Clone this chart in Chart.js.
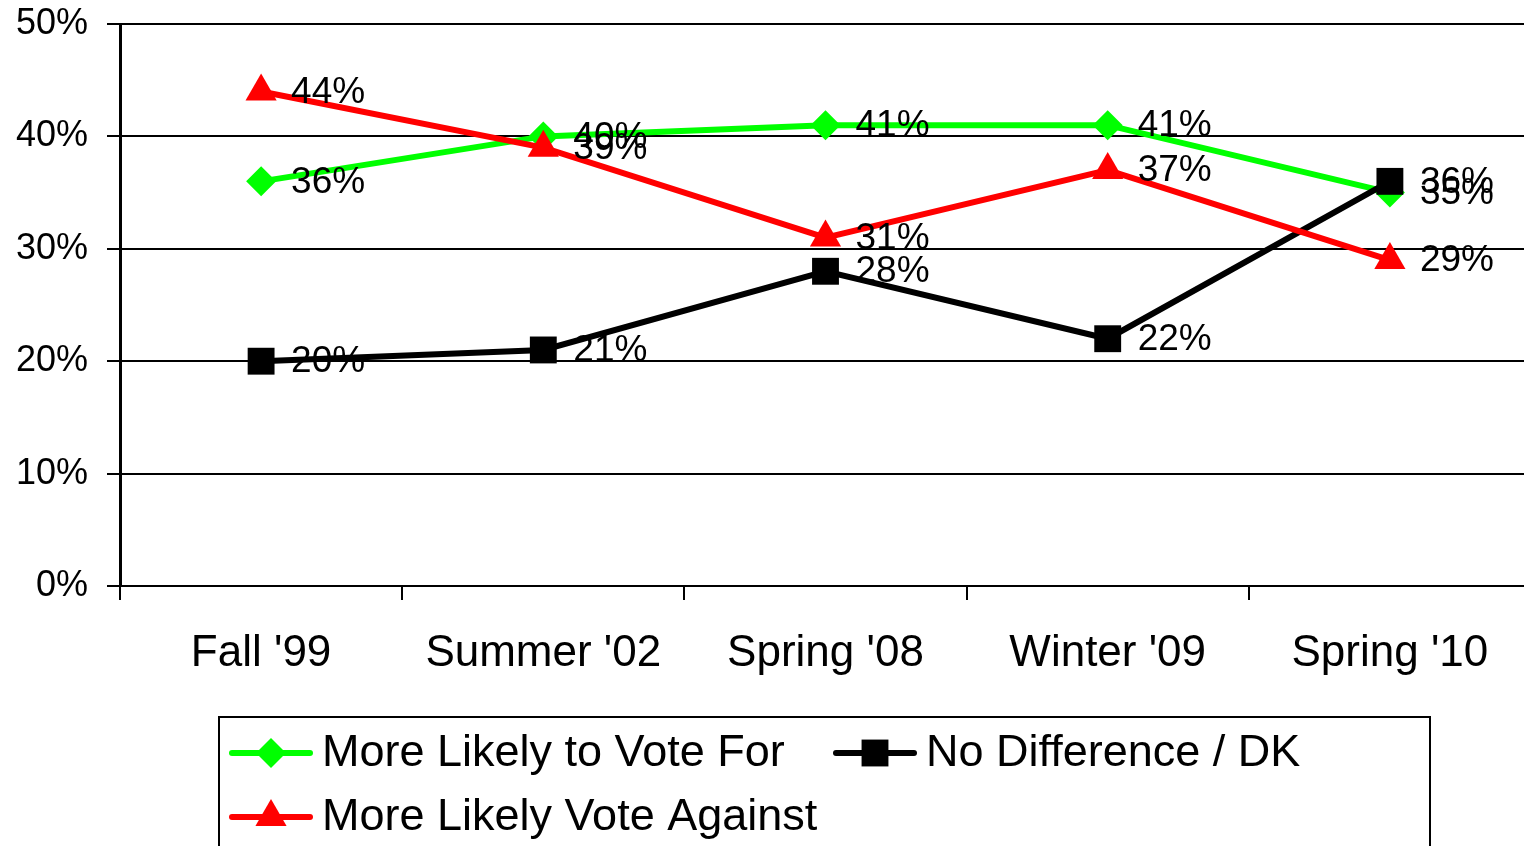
<!DOCTYPE html>
<html>
<head>
<meta charset="utf-8">
<script src="https://cdn.jsdelivr.net/npm/chart.js@4/dist/chart.umd.min.js"></script>
<style>
    html, body { margin: 0; padding: 0; background: #fff; overflow: hidden; }
    .wrap { position: relative; width: 1550px; height: 846px; }
</style>
</head>
<body>
<div class="wrap"><canvas id="voteChart"></canvas></div>
<script>
const categories = ["Fall '99", "Summer '02", "Spring '08", "Winter '09", "Spring '10"]
const voteFor = [36, 40, 41, 41, 35]
const voteAgainst = [44, 39, 31, 37, 29]
const noDifference = [20, 21, 28, 22, 36]
const yTicks = [0, 10, 20, 30, 40, 50]

const FONT = '"Liberation Sans", Arial, sans-serif'

// value labels next to each point
const pointLabels = {
    id: 'pointLabels',
    afterDatasetsDraw(chart) {
        const ctx = chart.ctx
        ctx.save()
        ctx.font = '37px ' + FONT
        ctx.fillStyle = '#000'
        ctx.textAlign = 'left'
        ctx.textBaseline = 'middle'
        chart.data.datasets.forEach((ds, i) => {
            chart.getDatasetMeta(i).data.forEach((pt, j) => {
                ctx.fillText(ds.data[j] + '%', pt.x + 30, pt.y + 1)
            })
        })
        ctx.restore()
    },
}

// boxed legend like the original
const boxLegend = {
    id: 'boxLegend',
    afterDraw(chart) {
        const ctx = chart.ctx
        const items = [
            { ds: 0, x: 232, y: 753 },
            { ds: 2, x: 836, y: 753 },
            { ds: 1, x: 232, y: 817 },
        ]
        ctx.save()
        ctx.strokeStyle = '#000'
        ctx.lineWidth = 2
        ctx.strokeRect(219, 717, 1211, 160)
        items.forEach((it) => {
            const ds = chart.data.datasets[it.ds]
            ctx.beginPath()
            ctx.strokeStyle = ds.borderColor
            ctx.lineWidth = 6
            ctx.lineCap = 'round'
            ctx.moveTo(it.x, it.y)
            ctx.lineTo(it.x + 78, it.y)
            ctx.stroke()
            ctx.fillStyle = ds.pointBackgroundColor
            ctx.strokeStyle = ds.pointBorderColor
            Chart.helpers.drawPoint(ctx, {
                pointStyle: ds.pointStyle,
                radius: ds.pointRadius,
                rotation: 0,
                borderWidth: 0,
            }, it.x + 39, it.y)
            ctx.fillStyle = '#000'
            ctx.font = '45px ' + FONT
            ctx.textAlign = 'left'
            ctx.textBaseline = 'middle'
            ctx.fillText(ds.label, it.x + 90, it.y + 1)
        })
        ctx.restore()
    },
}

const ctx = document.getElementById('voteChart').getContext('2d')
new Chart(ctx, {
    type: 'line',
    data: {
        labels: categories,
        datasets: [
            {
                label: 'More Likely to Vote For',
                data: voteFor,
                borderColor: '#00ff00',
                backgroundColor: '#00ff00',
                pointBackgroundColor: '#00ff00',
                pointBorderColor: '#00ff00',
                pointStyle: 'rectRot',
                pointRadius: 15,
                borderWidth: 6,
                pointBorderWidth: 0,
                order: 2,
            },
            {
                label: 'More Likely Vote Against',
                data: voteAgainst,
                borderColor: '#ff0000',
                backgroundColor: '#ff0000',
                pointBackgroundColor: '#ff0000',
                pointBorderColor: '#ff0000',
                pointStyle: 'triangle',
                pointRadius: 18,
                borderWidth: 6,
                pointBorderWidth: 0,
                order: 0,
            },
            {
                label: 'No Difference / DK',
                data: noDifference,
                borderColor: '#000000',
                backgroundColor: '#000000',
                pointBackgroundColor: '#000000',
                pointBorderColor: '#000000',
                pointStyle: 'rect',
                pointRadius: 19,
                borderWidth: 6,
                pointBorderWidth: 0,
                order: 1,
            },
        ],
    },
    options: {
        responsive: true,
        maintainAspectRatio: false,
        animation: false,
        events: [],
        layout: { padding: { top: 24, bottom: 0, left: 0, right: 0 } },
        plugins: {
            legend: { display: false },
            tooltip: { enabled: false },
        },
        scales: {
            x: {
                offset: true,
                border: { color: '#000', width: 2 },
                grid: {
                    offset: true,
                    drawOnChartArea: false,
                    drawTicks: true,
                    tickLength: 14,
                    color: '#000',
                    lineWidth: 2,
                },
                ticks: {
                    color: '#000',
                    font: { family: FONT, size: 44 },
                    padding: 27,
                    maxRotation: 0,
                },
                afterFit(scale) {
                    scale.height = 260
                    scale.paddingLeft = 0
                    scale.paddingRight = 0
                },
            },
            y: {
                min: 0,
                max: 50,
                border: { color: '#000', width: 3 },
                grid: {
                    color: '#000',
                    lineWidth: 2,
                    tickLength: 13,
                },
                afterBuildTicks(scale) {
                    scale.ticks = yTicks.map((v) => ({ value: v }))
                },
                ticks: {
                    color: '#000',
                    font: { family: FONT, size: 36 },
                    padding: 19,
                    callback: (v) => v + '%',
                },
                afterFit(scale) {
                    scale.width = 120
                    scale.paddingTop = 0
                    scale.paddingBottom = 0
                },
            },
        },
    },
    plugins: [pointLabels, boxLegend],
})
</script>
</body>
</html>
